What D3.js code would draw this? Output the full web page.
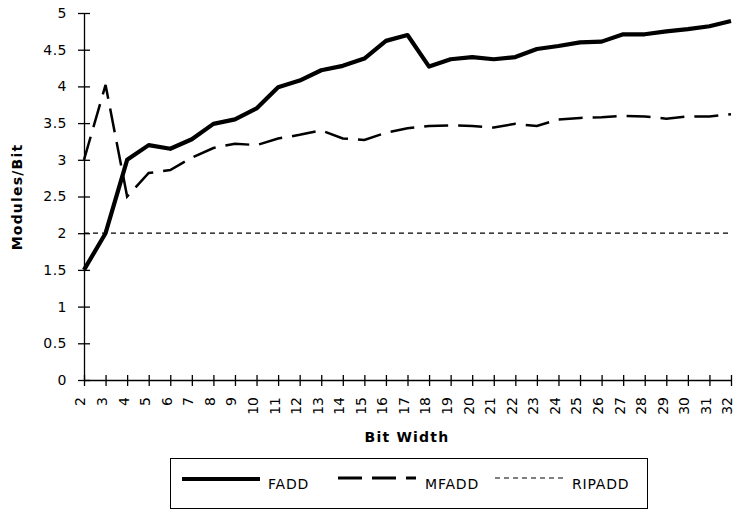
<!DOCTYPE html>
<html>
<head>
<meta charset="utf-8">
<script src="https://cdn.jsdelivr.net/npm/d3@7"></script>
<style>
  html, body { margin: 0; padding: 0; background: #fff; }
  svg { display: block; }
  text { font-family: "DejaVu Sans", Verdana, sans-serif; fill: #000; }
</style>
</head>
<body>
<svg id="chart" width="738" height="509"></svg>
<script>
const categories = [2,3,4,5,6,7,8,9,10,11,12,13,14,15,16,17,18,19,20,21,22,23,24,25,26,27,28,29,30,31,32];
const fadd   = [1.5,2.0,3.0,3.2,3.15,3.28,3.49,3.55,3.7,3.99,4.08,4.22,4.28,4.38,4.62,4.7,4.27,4.37,4.4,4.37,4.4,4.51,4.55,4.6,4.61,4.71,4.71,4.75,4.78,4.82,4.89];
const mfadd  = [3.0,4.02,2.5,2.82,2.86,3.03,3.16,3.22,3.2,3.29,3.34,3.4,3.29,3.27,3.37,3.43,3.46,3.47,3.46,3.44,3.49,3.46,3.55,3.57,3.58,3.6,3.59,3.56,3.59,3.59,3.62];
const ripadd = [2,2,2,2,2,2,2,2,2,2,2,2,2,2,2,2,2,2,2,2,2,2,2,2,2,2,2,2,2,2,2];
const yTicks = [0,0.5,1,1.5,2,2.5,3,3.5,4,4.5,5];
const seriesNames = ["FADD","MFADD","RIPADD"];

const svg = d3.select("#chart");
const margin = {left: 84, top: 13};
const W = 647, H = 367;
const g = svg.append("g").attr("transform", `translate(${margin.left},${margin.top})`);

const x = d3.scalePoint().domain(categories).range([0, W]);
const y = d3.scaleLinear().domain([0, 5]).range([H, 0]);

// Y axis
const yAxis = g.append("g").call(d3.axisLeft(y).tickValues(yTicks).tickFormat(d => String(d)).tickSize(6).tickSizeOuter(0));
yAxis.select(".domain").attr("stroke", "#000").attr("stroke-width", 1.3);
yAxis.selectAll(".tick line").attr("x1", -6).attr("x2", 6).attr("stroke", "#000").attr("stroke-width", 1.3);
yAxis.selectAll(".tick text").attr("x", -17).attr("font-size", 14).attr("letter-spacing", 0.5)
  .attr("font-family", "DejaVu Sans, sans-serif").attr("fill", "#000");

// X axis
const xAxis = g.append("g").attr("transform", `translate(0,${H})`)
  .call(d3.axisBottom(x).tickSize(6).tickSizeOuter(0));
xAxis.select(".domain").attr("stroke", "#000").attr("stroke-width", 1.3);
xAxis.selectAll(".tick line").attr("y1", -5).attr("y2", 6).attr("stroke", "#000").attr("stroke-width", 1.3);
xAxis.selectAll(".tick text")
  .attr("font-size", 14).attr("font-family", "DejaVu Sans, sans-serif").attr("fill", "#000")
  .attr("text-anchor", "end")
  .attr("transform", "rotate(-90)")
  .attr("x", -17).attr("y", -4).attr("dy", "0.35em");

// Lines
const line = d3.line().x((d, i) => x(categories[i])).y(d => y(d));
g.append("path").datum(ripadd).attr("d", line).attr("fill", "none")
  .attr("stroke", "#000").attr("stroke-width", 1.2).attr("stroke-dasharray", "5,4");
g.append("path").datum(mfadd).attr("d", line).attr("fill", "none")
  .attr("stroke", "#000").attr("stroke-width", 2.5).attr("stroke-dasharray", "24,10");
g.append("path").datum(fadd).attr("d", line).attr("fill", "none")
  .attr("stroke", "#000").attr("stroke-width", 4.2).attr("stroke-linejoin", "round");

// Axis titles
svg.append("text").attr("transform", "translate(22,197) rotate(-90)")
  .attr("text-anchor", "middle").attr("font-size", 14).attr("font-weight", "bold")
  .attr("letter-spacing", 1.2).text("Modules/Bit");
svg.append("text").attr("x", 407).attr("y", 442)
  .attr("text-anchor", "middle").attr("font-size", 14).attr("font-weight", "bold")
  .attr("letter-spacing", 1.2).text("Bit Width");

// Legend
const lg = svg.append("g");
lg.append("rect").attr("x", 170.5).attr("y", 458.5).attr("width", 477).attr("height", 50)
  .attr("fill", "none").attr("stroke", "#000").attr("stroke-width", 1);
const legendItems = [
  {name: seriesNames[0], x1: 182, x2: 260, ly: 479, tx: 268, w: 4.2, dash: null},
  {name: seriesNames[1], x1: 338, x2: 416, ly: 478, tx: 425, w: 2.8, dash: "24,10"},
  {name: seriesNames[2], x1: 495, x2: 565, ly: 478, tx: 572, w: 1.2, dash: "5,4"}
];
legendItems.forEach(it => {
  lg.append("line").attr("x1", it.x1).attr("x2", it.x2).attr("y1", it.ly).attr("y2", it.ly)
    .attr("stroke", "#000").attr("stroke-width", it.w).attr("stroke-dasharray", it.dash);
  lg.append("text").attr("x", it.tx).attr("y", 489).attr("font-size", 14)
    .attr("letter-spacing", 0.8).text(it.name);
});
</script>
</body>
</html>
